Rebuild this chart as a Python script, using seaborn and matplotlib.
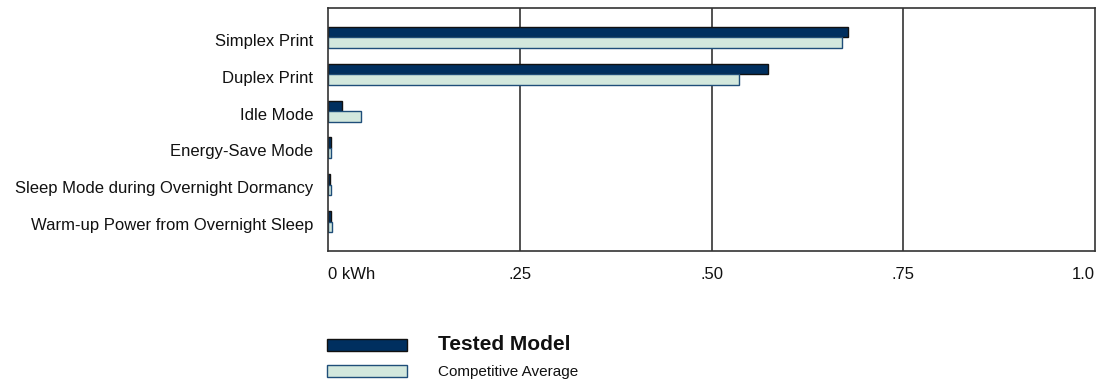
import matplotlib
matplotlib.use("Agg")
import matplotlib.pyplot as plt
from matplotlib.patches import Patch
from matplotlib.transforms import ScaledTranslation
import seaborn as sns
import pandas as pd

categories = ["Simplex Print", "Duplex Print", "Idle Mode", "Energy-Save Mode",
              "Sleep Mode during Overnight Dormancy", "Warm-up Power from Overnight Sleep"]
tested_model = [0.678, 0.574, 0.018, 0.0035, 0.002, 0.0035]
competitive_avg = [0.670, 0.536, 0.043, 0.0035, 0.0035, 0.005]
series_names = ["Tested Model", "Competitive Average"]
xticks = [0, 0.25, 0.50, 0.75, 1.0]
xtick_labels = ["0 kWh", ".25", ".50", ".75", "1.0"]

dark = "#002F5F"
light = "#D3E8DD"
text_color = "#111111"

df = pd.DataFrame({
    "category": categories * 2,
    "value": tested_model + competitive_avg,
    "series": [series_names[0]] * len(categories) + [series_names[1]] * len(categories),
})

sns.set_theme(style="white")
plt.rcParams["font.family"] = ["Liberation Sans", "DejaVu Sans"]
plt.rcParams["text.color"] = text_color

fig = plt.figure(figsize=(11.02, 3.85), dpi=100)
ax = fig.add_axes([328 / 1102, (385 - 251) / 385, (1095 - 328) / 1102, (251 - 8) / 385])

sns.barplot(data=df, y="category", x="value", hue="series", order=categories,
            hue_order=series_names, palette=[dark, light], width=0.57, orient="h",
            ax=ax, legend=False, saturation=1)

edges = ["#111111", "#1F4E79"]
for i, cont in enumerate(ax.containers):
    for bar in cont:
        bar.set_edgecolor(edges[i])
        bar.set_linewidth(1.0)

ax.set_xlim(0, 1.0)
ax.set_ylim(5.8, -0.8)
ax.set_xticks(xticks)
ax.set_xticklabels(xtick_labels)
xl = ax.get_xticklabels()
xl[0].set_horizontalalignment("left")
xl[-1].set_horizontalalignment("right")
ax.set_xlabel("")
ax.set_ylabel("")
ax.tick_params(axis="both", length=0, labelsize=12, colors=text_color)
ax.tick_params(axis="y", pad=10.8)
ax.tick_params(axis="x", pad=11.5)
shift = ScaledTranslation(0, -2.5 / 100, fig.dpi_scale_trans)
for lab in ax.get_yticklabels():
    lab.set_transform(lab.get_transform() + shift)
ax.grid(False)
for x in xticks[1:4]:
    ax.axvline(x, color="#333333", lw=1.2, zorder=0)
for s in ax.spines.values():
    s.set_color("#333333")
    s.set_linewidth(1.2)

handles = [Patch(facecolor=dark, edgecolor="#111111", lw=1.0),
           Patch(facecolor=light, edgecolor="#1F4E79", lw=1.0)]
leg = fig.legend(handles, series_names, loc="upper left",
                 bbox_to_anchor=(327 / 1102, 1 - 335 / 385), frameon=False,
                 handlelength=5.24, handleheight=0.85, handletextpad=2.0,
                 labelspacing=0.7, borderpad=0, borderaxespad=0, fontsize=11)
for t in leg.get_texts():
    t.set_color(text_color)
t0 = leg.get_texts()[0]
t0.set_fontweight("bold")
t0.set_fontsize(15)

fig.savefig("out.png", dpi=100)
